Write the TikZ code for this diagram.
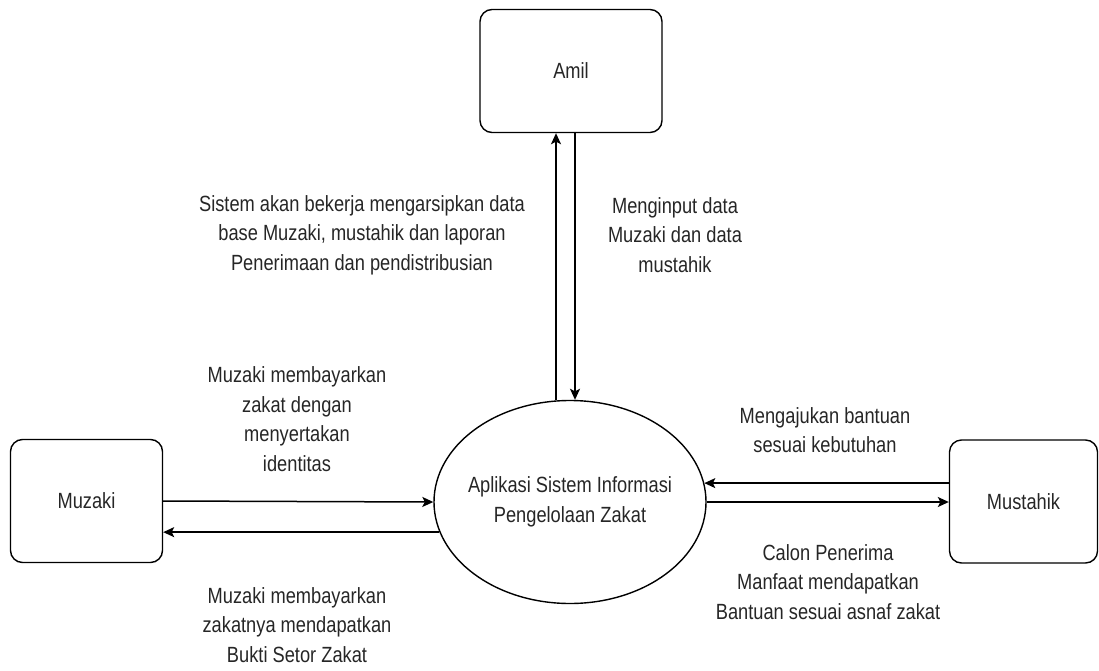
\documentclass[tikz,border=0pt]{standalone}
\usepackage{fontspec}
\setmainfont{Liberation Sans}[FakeStretch=0.83]
\usetikzlibrary{arrows.meta,shapes.geometric,positioning,calc}

\begin{document}
\begin{tikzpicture}[x=1pt, y=-1pt,
        font=\fontsize{22}{29.5}\selectfont,
        entity/.style={draw, rounded corners=12pt, line width=1.4pt, minimum height=123pt, text=black!85},
        process/.style={draw, ellipse, line width=1.4pt, minimum width=272pt, minimum height=203pt, inner xsep=-10pt, inner ysep=0pt, align=center, text=black!85},
        msg/.style={align=center, text=black!85},
        flow/.style={line width=1.5pt, -{Stealth[length=11pt,width=10pt,inset=2.5pt]}}]
    \useasboundingbox (0,0) rectangle (1099,671);
    \node[entity, minimum width=182pt] (amil) at (571,71) {Amil};
    \node[entity, minimum width=152pt] (muzaki) at (86.5,501) {Muzaki};
    \node[entity, minimum width=148pt] (mustahik) at (1023.5,501.5) {Mustahik};
    \node[process] (app) at (570,502) {Aplikasi Sistem Informasi\\Pengelolaan Zakat};% the system

    \draw[flow] ([xshift=-15pt]amil.south |- app.north) -- ([xshift=-15pt]amil.south);
    \draw[flow] ([xshift=4pt]amil.south) -- ([xshift=4pt]amil.south |- app.north);
    \draw[flow] (muzaki.east) -- (app.west);
    \draw[flow] (app.193) -- (app.193 -| muzaki.east);
    \draw[flow] (mustahik.west |- app.8) -- (app.8);
    \draw[flow] (app.east) -- (app.east -| mustahik.west);

    \node[msg] (arsip) at (362,235) {Sistem akan bekerja mengarsipkan data\\base Muzaki, mustahik dan laporan\\Penerimaan dan pendistribusian};
    \node[msg] (input) at (675,235) {Menginput data\\Muzaki dan data\\mustahik};
    \node[msg] (bayar) at (297,419) {Muzaki membayarkan\\zakat dengan\\menyertakan\\identitas};
    \node[msg] (bukti) at (297,625) {Muzaki membayarkan\\zakatnya mendapatkan\\Bukti Setor Zakat};
    \node[msg] (aju) at (825,430) {Mengajukan bantuan\\sesuai kebutuhan};
    \node[msg] (calon) at (828,582) {Calon Penerima\\Manfaat mendapatkan\\Bantuan sesuai asnaf zakat};
\end{tikzpicture}
\end{document}
